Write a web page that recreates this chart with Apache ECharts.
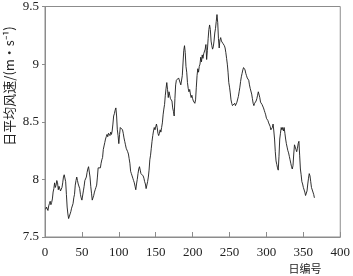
<!DOCTYPE html>
<html>
<head>
<meta charset="utf-8">
<script src="https://cdn.jsdelivr.net/npm/echarts@6/dist/echarts.min.js"></script>
<style>html,body{margin:0;padding:0;background:#fff}#c{width:353px;height:276px}</style>
</head>
<body>
<div id="c"></div>
<script>
var xTicks = [0, 50, 100, 150, 200, 250, 300, 350, 400];
var yTicks = [7.5, 8, 8.5, 9, 9.5];
var xName = '日编号';
var yName = '日平均风速/(m·s⁻¹)';
var windSpeed = [
7.74,7.76,7.75,7.73,7.77,7.79,7.81,7.78,7.80,7.83,
7.89,7.92,7.97,7.93,7.95,7.99,7.97,7.91,7.94,7.93,
7.90,7.89,7.93,7.97,8.02,8.04,8.05,7.98,7.87,7.76,
7.70,7.66,7.67,7.70,7.72,7.75,7.76,7.79,7.84,7.87,
7.95,7.99,8.02,7.99,7.96,7.95,7.92,7.87,7.84,7.82,
7.83,7.90,7.94,7.99,7.98,8.02,8.06,8.09,8.11,8.10,
8.02,7.94,7.88,7.82,7.81,7.86,7.89,7.91,7.93,7.95,
8.02,8.10,8.09,8.11,8.10,8.14,8.17,8.19,8.26,8.29,
8.32,8.35,8.37,8.39,8.37,8.40,8.41,8.38,8.41,8.39,
8.42,8.48,8.55,8.57,8.60,8.62,8.55,8.43,8.38,8.31,
8.39,8.45,8.46,8.45,8.43,8.40,8.36,8.33,8.30,8.27,
8.27,8.24,8.22,8.18,8.14,8.07,8.05,8.03,8.01,7.99,
7.97,7.94,7.91,7.96,8.00,8.05,8.09,8.11,8.08,8.05,
8.04,8.05,8.03,8.01,7.98,7.96,7.92,7.91,7.98,8.02,
8.08,8.17,8.21,8.27,8.33,8.38,8.42,8.45,8.43,8.44,
8.48,8.45,8.40,8.38,8.40,8.43,8.41,8.45,8.49,8.56,
8.61,8.65,8.73,8.79,8.84,8.78,8.71,8.76,8.73,8.70,
8.69,8.68,8.62,8.59,8.55,8.70,8.82,8.86,8.85,8.87,
8.88,8.89,8.87,8.82,8.83,8.90,9.01,9.12,9.16,9.10,
8.98,8.93,8.84,8.79,8.76,8.78,8.74,8.71,8.73,8.70,
8.68,8.67,8.66,8.69,8.80,8.90,8.96,8.93,8.98,9.00,
9.06,9.02,9.08,9.05,9.09,9.10,9.13,9.17,9.04,9.12,
9.22,9.30,9.34,9.30,9.20,9.16,9.13,9.15,9.20,9.27,
9.31,9.37,9.43,9.36,9.22,9.14,9.21,9.23,9.20,9.21,
9.18,9.19,9.16,9.14,9.10,9.05,9.00,8.93,8.84,8.80,
8.75,8.69,8.66,8.64,8.65,8.64,8.66,8.64,8.65,8.67,
8.67,8.72,8.76,8.80,8.85,8.89,8.92,8.95,8.97,8.98,
8.95,8.92,8.90,8.88,8.89,8.86,8.82,8.79,8.78,8.74,
8.70,8.66,8.64,8.66,8.67,8.68,8.70,8.73,8.76,8.77,
8.71,8.67,8.66,8.65,8.64,8.62,8.60,8.58,8.56,8.53,
8.54,8.51,8.49,8.48,8.46,8.43,8.42,8.45,8.48,8.42,
8.35,8.24,8.16,8.13,8.10,8.08,8.20,8.35,8.40,8.45,
8.43,8.45,8.42,8.45,8.40,8.35,8.31,8.28,8.25,8.23,
8.20,8.17,8.14,8.11,8.09,8.12,8.22,8.30,8.29,8.26,
8.24,8.27,8.31,8.33,8.21,8.09,8.04,7.98,7.96,7.93,
7.92,7.89,7.86,7.85,7.90,7.96,8.01,8.05,8.03,7.98,
7.93,7.92,7.89,7.87,7.84
];
var dayNumbers = windSpeed.map(function (v, i) { return i + 1; });
var seriesData = dayNumbers.map(function (d, i) { return [d, windSpeed[i]]; });

var numFont = '"Liberation Serif", "DejaVu Serif", serif';
var cjkFont = '"Noto Sans CJK SC", sans-serif';
var chart = echarts.init(document.getElementById('c'), null, {renderer: 'canvas'});
chart.setOption({
  animation: false,
  backgroundColor: '#fff',
  grid: {left: 45, right: 10, top: 4, bottom: 39, show: true, borderColor: '#8c8c8c', borderWidth: 1},
  xAxis: {
    type: 'value', min: xTicks[0], max: xTicks[xTicks.length - 1], interval: 50,
    axisLine: {show: true, lineStyle: {color: '#8c8c8c', width: 1}},
    axisTick: {show: true, inside: true, length: 5, lineStyle: {color: '#8c8c8c'}},
    axisLabel: {margin: 9, fontSize: 13, color: '#222', fontFamily: numFont},
    splitLine: {show: false}
  },
  yAxis: {
    type: 'value', min: yTicks[0], max: yTicks[yTicks.length - 1], interval: 0.5,
    axisLine: {show: true, lineStyle: {color: '#8c8c8c', width: 1}},
    axisTick: {show: true, inside: false, length: 3, lineStyle: {color: '#8c8c8c'}},
    axisLabel: {margin: 6, fontSize: 13, color: '#222', fontFamily: numFont,
      formatter: function (v) { return String(v); }},
    splitLine: {show: false}
  },
  graphic: [
    {type: 'text', x: 9, y: 86, rotation: Math.PI / 2,
     style: {text: yName, fontSize: 13, fill: '#222', fontFamily: cjkFont, align: 'center', verticalAlign: 'middle'}},
    {type: 'text', x: 305, y: 269,
     style: {text: xName, fontSize: 11, fill: '#222', fontFamily: cjkFont, align: 'center', verticalAlign: 'middle'}}
  ],
  series: [{
    type: 'line', data: seriesData, showSymbol: false, symbol: 'none',
    lineStyle: {color: '#1a1a1a', width: 0.9}, silent: true
  }]
});
</script>
</body>
</html>
